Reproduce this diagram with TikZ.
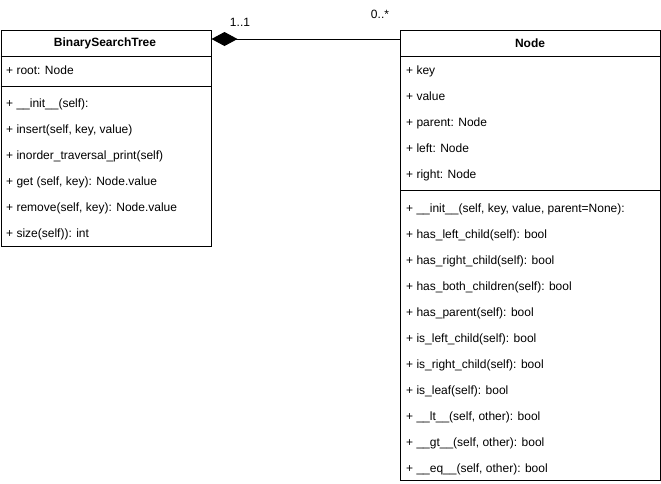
\documentclass[tikz,border=0pt]{standalone}
\usepackage{fontspec}
\setmainfont{Liberation Sans}
\usetikzlibrary{arrows.meta,positioning}
\tikzset{
  classbox/.style={draw, line width=1pt, rectangle, anchor=north west, inner sep=0pt},
  classname/.style={font=\fontsize{12}{14}\selectfont\bfseries, inner sep=0pt},
  member/.style={font=\fontsize{12}{14}\selectfont, anchor=west, inner sep=0pt, text height=10pt, text depth=2pt},
  mult/.style={font=\fontsize{12}{14}\selectfont, inner sep=0pt},
  composition/.style={line width=1pt, {Diamond[length=26pt,width=14pt,fill=black]}-}
}
\begin{document}
\begin{tikzpicture}[x=1pt,y=-1pt]
\useasboundingbox (0,0) rectangle (661,483);

            % BinarySearchTree
            \node[classbox, minimum width=210pt, minimum height=216pt] (bst) at (0.5,30) {};
            \node[classname] (bsttitle) at (105,43) {BinarySearchTree};
            \draw[line width=1pt] (bst.west |- 0,56) -- (bst.east |- 0,56);
            \draw[line width=1pt] (bst.west |- 0,86) -- (bst.east |- 0,86);
            \node[member] (bstroot) at (6,70) {+ root: Node};
            \foreach \txt [count=\i] in {{+ \_\_init\_\_(self):},{+ insert(self, key, value)},{+ inorder\_traversal\_print(self)},{+ get (self, key): Node.value},{+ remove(self, key): Node.value},{+ size(self)): int}}
              \node[member] (bstm\i) at (6,77+26*\i) {\txt};

            % Node
            \node[classbox, minimum width=260pt, minimum height=450pt] (nd) at (400,30) {};
            \node[classname] (ndtitle) at (530,43) {Node};
            \draw[line width=1pt] (nd.west |- 0,56) -- (nd.east |- 0,56);
            \draw[line width=1pt] (nd.west |- 0,190) -- (nd.east |- 0,190);
            \foreach \txt [count=\i] in {{+ key},{+ value},{+ parent: Node},{+ left: Node},{+ right: Node}}
              \node[member] (nda\i) at (406,44+26*\i) {\txt};
            \foreach \txt [count=\i] in {{+ \_\_init\_\_(self, key, value, parent=None):},{+ has\_left\_child(self): bool},{+ has\_right\_child(self): bool},{+ has\_both\_children(self): bool},{+ has\_parent(self): bool},{+ is\_left\_child(self): bool},{+ is\_right\_child(self): bool},{+ is\_leaf(self): bool},{+ \_\_lt\_\_(self, other): bool},{+ \_\_gt\_\_(self, other): bool},{+ \_\_eq\_\_(self, other): bool}}
              \node[member] (ndm\i) at (406,182+26*\i) {\txt};

            % composition
            \coordinate (bstend) at (bst.east |- 0,39);
            \coordinate (ndend) at (nd.west |- 0,39);
            \draw[composition] (bstend) -- (ndend);
            \node[mult] (mbst) at (240,22) {1..1};
            \node[mult] (mnd) at (380,14) {0..*};

          \end{tikzpicture}
\end{document}
